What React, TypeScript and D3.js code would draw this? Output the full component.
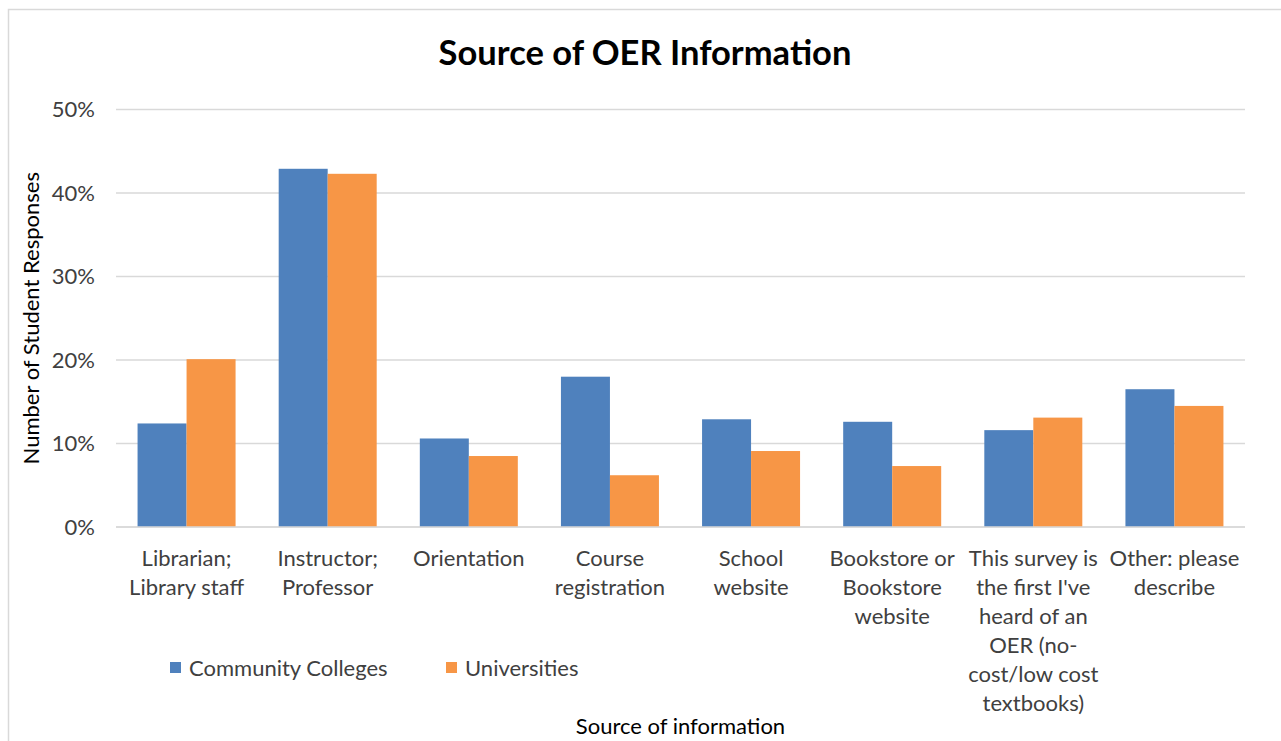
import React, { useEffect, useRef } from "react";
import * as d3 from "d3";

const categories = [
  "Librarian;\nLibrary staff",
  "Instructor;\nProfessor",
  "Orientation",
  "Course\nregistration",
  "School\nwebsite",
  "Bookstore or\nBookstore\nwebsite",
  "This survey is\nthe first I've\nheard of an\nOER (no-\ncost/low cost\ntextbooks)",
  "Other: please\ndescribe",
];
const seriesNames = ["Community Colleges", "Universities"];
const communityColleges = [12.4, 42.9, 10.6, 18.0, 12.9, 12.6, 11.6, 16.5];
const universities = [20.1, 42.3, 8.5, 6.2, 9.1, 7.3, 13.1, 14.5];
const yTicks = [0, 10, 20, 30, 40, 50];
const colors = ["#4f81bd", "#f79646"];

const FONT = "Lato, 'Open Sans', sans-serif";
const FS = 22;

const App = () => {
  const ref = useRef<SVGSVGElement>(null);

  useEffect(() => {
    const width = 1281;
    const height = 741;
    const left = 116;
    const right = 1245;
    const top = 109.5;
    const bottom = 527;

    const svg = d3.select(ref.current);
    svg.selectAll("*").remove();
    svg.attr("width", width).attr("height", height);

    svg
      .append("rect")
      .attr("width", width)
      .attr("height", height)
      .attr("fill", "#fff");

    // chart frame (runs off the right/bottom of the image)
    svg
      .append("rect")
      .attr("x", 8.5)
      .attr("y", 9.5)
      .attr("width", width + 20)
      .attr("height", height + 20)
      .attr("fill", "none")
      .attr("stroke", "#d9d9d9")
      .attr("stroke-width", 1.5);

    const x = d3
      .scaleBand()
      .domain(d3.range(categories.length).map(String))
      .range([left, right])
      .paddingInner(0)
      .paddingOuter(0);

    const inner = d3
      .scaleBand()
      .domain(["0", "1"])
      .range([0, x.bandwidth()])
      .paddingOuter(0.44)
      .paddingInner(0);

    const y = d3.scaleLinear().domain([0, 50]).range([bottom, top]);

    // gridlines
    svg
      .append("g")
      .selectAll("line")
      .data(yTicks)
      .enter()
      .append("line")
      .attr("x1", left)
      .attr("x2", right)
      .attr("y1", (d) => y(d))
      .attr("y2", (d) => y(d))
      .attr("stroke", "#d9d9d9")
      .attr("stroke-width", 1.5);

    // y tick labels
    svg
      .append("g")
      .selectAll("text")
      .data(yTicks)
      .enter()
      .append("text")
      .attr("x", 95)
      .attr("y", (d) => y(d))
      .attr("dy", "0.35em")
      .attr("text-anchor", "end")
      .attr("font-family", FONT)
      .attr("font-size", FS)
      .attr("fill", "#404040")
      .text((d) => d + "%");

    const series = [communityColleges, universities];
    series.forEach((vals, s) => {
      svg
        .append("g")
        .selectAll("rect")
        .data(vals)
        .enter()
        .append("rect")
        .attr("x", (d, i) => (x(String(i)) as number) + (inner(String(s)) as number))
        .attr("width", inner.bandwidth())
        .attr("y", (d) => y(d))
        .attr("height", (d) => y(0) - y(d))
        .attr("fill", colors[s]);
    });

    // axis baseline
    svg
      .append("line")
      .attr("x1", left)
      .attr("x2", right)
      .attr("y1", y(0))
      .attr("y2", y(0))
      .attr("stroke", "#d9d9d9")
      .attr("stroke-width", 1.5);

    // category labels
    const cat = svg
      .append("g")
      .selectAll("text")
      .data(categories)
      .enter()
      .append("text")
      .attr("text-anchor", "middle")
      .attr("font-family", FONT)
      .attr("font-size", FS)
      .attr("fill", "#404040")
      .attr("transform", (d, i) => `translate(${(x(String(i)) as number) + x.bandwidth() / 2},566)`);
    cat.each(function (d) {
      const t = d3.select(this);
      d.split("\n").forEach((line, k) => {
        t.append("tspan").attr("x", 0).attr("y", k * 29).text(line);
      });
    });

    // title
    svg
      .append("text")
      .attr("x", 645)
      .attr("y", 65)
      .attr("text-anchor", "middle")
      .attr("font-family", FONT)
      .attr("font-weight", "bold")
      .attr("font-size", 34.5)
      .attr("fill", "#000")
      .text("Source of OER Information");

    // y title
    svg
      .append("text")
      .attr("transform", `translate(39,${(top + bottom) / 2}) rotate(-90)`)
      .attr("text-anchor", "middle")
      .attr("font-family", FONT)
      .attr("font-size", FS)
      .attr("fill", "#000")
      .text("Number of Student Responses");

    // x title
    svg
      .append("text")
      .attr("x", (left + right) / 2)
      .attr("y", 734)
      .attr("text-anchor", "middle")
      .attr("font-family", FONT)
      .attr("font-size", FS)
      .attr("fill", "#000")
      .text("Source of information");

    // legend
    const legendX = [170, 446];
    const lg = svg
      .append("g")
      .selectAll("g")
      .data(seriesNames)
      .enter()
      .append("g")
      .attr("transform", (d, i) => `translate(${legendX[i]},662)`);
    lg.append("rect")
      .attr("width", 11)
      .attr("height", 11)
      .attr("fill", (d, i) => colors[i]);
    lg.append("text")
      .attr("x", 19)
      .attr("y", 6)
      .attr("dy", "0.35em")
      .attr("font-family", FONT)
      .attr("font-size", FS)
      .attr("fill", "#404040")
      .text((d) => d);
  }, []);

  return (
    <div style={{ position: "absolute", left: 0, top: 0 }}>
      <svg ref={ref} style={{ display: "block" }}></svg>
    </div>
  );
};

export default App;
